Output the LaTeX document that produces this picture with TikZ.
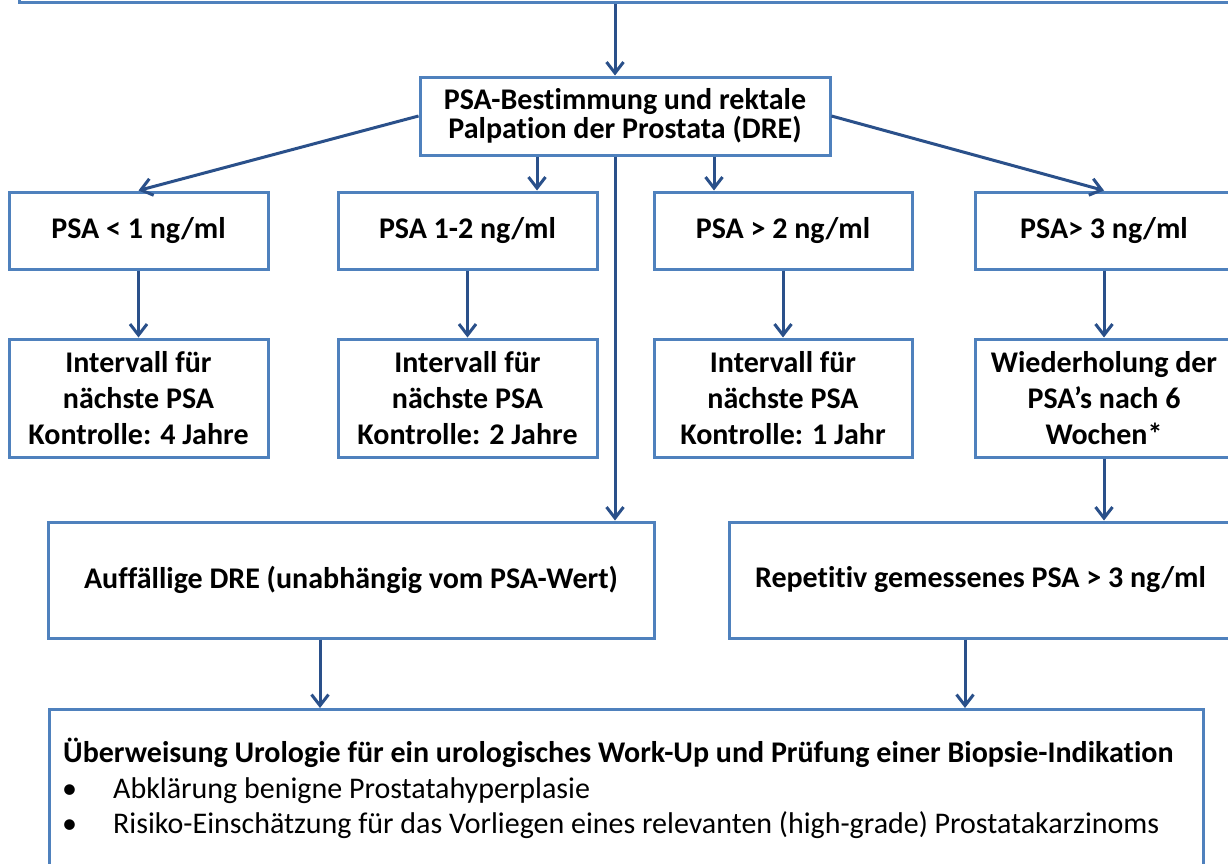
\documentclass[tikz,border=0pt]{standalone}
\usepackage{fontspec}
\setmainfont{Carlito}[Ligatures=NoCommon]
\usepackage{tikz}
\usetikzlibrary{arrows.meta}
\definecolor{boxblue}{RGB}{79,129,189}
\definecolor{linkblue}{RGB}{42,80,138}

\begin{document}
\begin{tikzpicture} [x=1pt,y=-1pt,>={Straight Barb[length=11pt,width=17pt]},
  box/.style={draw=boxblue,line width=3pt,fill=white,align=center,inner sep=0pt,
    font=\fontsize{30}{36}\selectfont\bfseries},
  link/.style={->,draw=linkblue,line width=3pt},
  plain/.style={inner sep=0pt,font=\fontsize{30}{36}\selectfont}]
\useasboundingbox (0,0) rectangle (1228,863);
\clip (0,0) rectangle (1228,863);
\fill [white](0,0) rectangle (1228,863);
% boxes
\node [box,minimum width=1240,minimum height=80,anchor=south west] (intro) at (18,4) {};
\node [box,minimum width=410,minimum height=78,font=\fontsize{30}{29}\selectfont\bfseries] (psa) at (625,116) {PSA-Bestimmung und rektale\\Palpation der Prostata (DRE)};
\node [box,minimum width=259,minimum height=77] (psa1) at (138.5,230.5) {PSA < 1 ng/ml};
\node [box,minimum width=259,minimum height=77] (psa2) at (467.5,230.5) {PSA 1-2 ng/ml};
\node [box,minimum width=258,minimum height=77] (psa3) at (783,230.5) {PSA > 2 ng/ml};
\node [box,minimum width=258,minimum height=77] (psa4) at (1104,230.5) {PSA> 3 ng/ml};
\node [box,minimum width=259,minimum height=118] (ctl1) at (138.5,398) {Intervall für\\nächste PSA\\Kontrolle: 4 Jahre};
\node [box,minimum width=259,minimum height=118] (ctl2) at (467.5,398) {Intervall für\\nächste PSA\\Kontrolle: 2 Jahre};
\node [box,minimum width=258,minimum height=118] (ctl3) at (783,398) {Intervall für\\nächste PSA\\Kontrolle: 1 Jahr};
\node [box,minimum width=258,minimum height=118] (rep6) at (1104,398) {Wiederholung der\\PSA’s nach 6\\Wochen*};
\node [box,minimum width=606,minimum height=116] (dre) at (351,580) {Auffällige DRE (unabhängig vom PSA-Wert)};
\node [box,minimum width=503,minimum height=116] (rpt) at (980.5,580) {Repetitiv gemessenes PSA > 3 ng/ml};
\node [box,minimum width=1154,minimum height=200,anchor=north west] (uro) at (48,708) {};
\node [plain,anchor=base west,font=\fontsize{30}{36}\selectfont\bfseries] (urohead) at (63,762) {Überweisung Urologie für ein urologisches Work-Up und Prüfung einer Biopsie-Indikation};
\node [plain,anchor=base west] (uroa) at (62,798) {\makebox[51pt][l]{\textbullet}Abklärung benigne Prostatahyperplasie};
\node [plain,anchor=base west] (urob) at (62,833) {\makebox[51pt][l]{\textbullet}Risiko-Einschätzung für das Vorliegen eines relevanten (high-grade) Prostatakarzinoms};
% arrows
\coordinate (spine) at (615,0);
\coordinate (dropb) at (537,0);
\coordinate (dropc) at (714,0);
\coordinate (dropl) at (320,0);
\coordinate (dropr) at (965,0);
\draw [link](intro.south -| spine) -- (psa.north -| spine);
\draw [link](psa.west) -- (psa1.north);
\draw [link](psa.south -| dropb) -- (psa2.north -| dropb);
\draw [link](psa.south -| dropc) -- (psa3.north -| dropc);
\draw [link](psa.east) -- (psa4.north);
\draw [link](psa.south -| spine) -- (dre.north -| spine);
\draw [link](psa1.south) -- (ctl1.north);
\draw [link](psa2.south) -- (ctl2.north);
\draw [link](psa3.south) -- (ctl3.north);
\draw [link](psa4.south) -- (rep6.north);
\draw [link](rep6.south) -- (rpt.north -| rep6.south);
\draw [link](dre.south -| dropl) -- (uro.north -| dropl);
\draw [link](rpt.south -| dropr) -- (uro.north -| dropr);
\end{tikzpicture}
\end{document}
